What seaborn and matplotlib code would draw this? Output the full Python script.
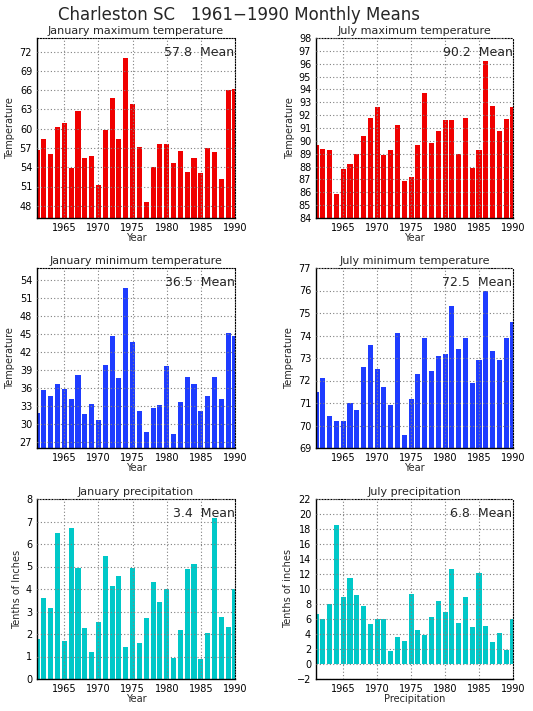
import matplotlib
matplotlib.use("Agg")
import matplotlib.pyplot as plt
import seaborn as sns
import pandas as pd


# years on the x axis
years = list(range(1961, 1991))

# monthly means
jan_max = [56.7, 58.4, 56.1, 60.3, 60.9, 53.9, 62.8, 55.4, 55.7, 51.2,
           59.8, 64.8, 58.4, 71.0, 63.9, 57.2, 48.6, 54.0, 57.6, 57.6,
           54.7, 56.5, 53.3, 55.4, 53.1, 57.0, 56.4, 52.2, 66.0, 66.2]
jul_max = [89.7, 89.4, 89.3, 85.9, 87.8, 88.2, 89.0, 90.4, 91.8, 92.6,
           88.9, 89.3, 91.2, 86.9, 87.2, 89.7, 93.7, 89.8, 90.8, 91.6,
           91.6, 89.0, 91.8, 87.9, 89.3, 96.2, 92.7, 90.8, 91.7, 92.6]
jan_min = [31.9, 35.7, 34.6, 36.7, 35.9, 34.1, 38.2, 31.6, 33.4, 30.6,
           39.9, 44.7, 37.7, 52.7, 43.6, 32.2, 28.7, 32.7, 33.1, 39.7,
           28.4, 33.6, 37.9, 36.7, 32.1, 34.7, 37.9, 34.2, 45.2, 44.7]
jul_min = [71.5, 72.1, 70.4, 70.2, 70.2, 71.0, 70.7, 72.6, 73.6, 72.5,
           71.7, 70.9, 74.1, 69.6, 71.2, 72.3, 73.9, 72.4, 73.1, 73.2,
           75.3, 73.4, 73.9, 71.9, 72.9, 76.0, 73.3, 72.9, 73.9, 74.6]
jan_pcp = [1.78, 3.59, 3.15, 6.51, 1.69, 6.69, 4.92, 2.27, 1.21, 2.53,
           5.45, 4.12, 4.57, 1.43, 4.92, 1.61, 2.71, 4.30, 3.42, 3.99,
           0.94, 2.18, 4.87, 5.10, 0.90, 2.05, 7.17, 2.75, 2.31, 3.99]
jul_pcp = [6.7, 6.0, 8.0, 18.5, 8.9, 11.5, 9.2, 7.7, 5.3, 6.0,
           6.0, 1.8, 3.6, 3.1, 9.3, 4.6, 3.9, 6.3, 8.4, 6.9,
           12.7, 5.5, 8.9, 4.9, 12.1, 5.1, 2.9, 4.1, 1.9, 6.0]

# text shown on each panel
panel_titles = ["January maximum temperature", "July maximum temperature",
                "January minimum temperature", "July minimum temperature",
                "January precipitation", "July precipitation"]
mean_labels = ["57.8", "90.2", "36.5", "72.5", "3.4", "6.8"]
y_labels = ["Temperature", "Temperature", "Temperature", "Temperature",
            "Tenths of Inches", "Tenths of inches"]
x_labels = ["Year", "Year", "Year", "Year", "Year", "Precipitation"]
x_ticks = [1965, 1970, 1975, 1980, 1985, 1990]
y_ticks = [list(range(48, 73, 3)), list(range(84, 99)),
           list(range(27, 55, 3)), list(range(69, 78)),
           list(range(0, 9)), list(range(-2, 23, 2))]
y_limits = [(46.1, 74.1), (84, 98), (26, 56), (69, 77), (0, 8), (-2, 22)]

RED = "#f00000"
BLUE = "#1e3cff"
CYAN = "#00c8c8"


def draw_panel(fig, rect, values, color, idx):
    """Draws one yearly bar panel in the GrADS look."""
    ax = fig.add_axes(rect)
    df = pd.DataFrame({"year": years, "value": values})
    sns.barplot(data=df, x="year", y="value", native_scale=True,
                color=color, width=0.75, errorbar=None, saturation=1,
                linewidth=0, ax=ax)

    ax.set_xlim(1961, 1990)
    ax.set_ylim(*y_limits[idx])
    ax.set_xticks(x_ticks)
    ax.set_yticks(y_ticks[idx])
    ax.tick_params(labelsize=7, length=2, pad=1.5, colors="black")

    # dotted grid drawn on top of the bars
    ax.set_axisbelow(False)
    ax.grid(True, color="#808080", linestyle=(0, (1, 2)), linewidth=0.8)

    # solid left/bottom spines, dotted top/right
    for side in ["left", "bottom"]:
        ax.spines[side].set_color("black")
        ax.spines[side].set_linewidth(1.0)
    for side in ["top", "right"]:
        ax.spines[side].set_color("black")
        ax.spines[side].set_linewidth(0.8)
        ax.spines[side].set_linestyle((0, (1, 1.5)))

    ax.set_title(panel_titles[idx], fontsize=8, pad=3)
    ax.set_ylabel(y_labels[idx], fontsize=7, labelpad=3)
    ax.set_xlabel(x_labels[idx], fontsize=7, labelpad=0)
    ax.text(0.997, 0.92, f"{mean_labels[idx]}  Mean", transform=ax.transAxes,
            ha="right", va="center", fontsize=9)
    return ax


sns.set_style("white")
plt.rcParams["font.family"] = ["DejaVu Sans"]

fig = plt.figure(figsize=(5.33, 7.11), dpi=100)

lefts = [37 / 533, 316 / 533]
widths = [198 / 533, 197 / 533]
bottoms = [1 - 218 / 711, 1 - 448 / 711, 1 - 679 / 711]
height = 180 / 711

series = [jan_max, jul_max, jan_min, jul_min, jan_pcp, jul_pcp]
colors = [RED, RED, BLUE, BLUE, CYAN, CYAN]

for i, vals in enumerate(series):
    row, col = divmod(i, 2)
    rect = [lefts[col], bottoms[row], widths[col], height]
    draw_panel(fig, rect, vals, colors[i], i)

fig.text(0.448, 0.979, "Charleston SC   1961\u22121990 Monthly Means",
         ha="center", va="center", fontsize=12)

fig.savefig("out.png", dpi=100)
